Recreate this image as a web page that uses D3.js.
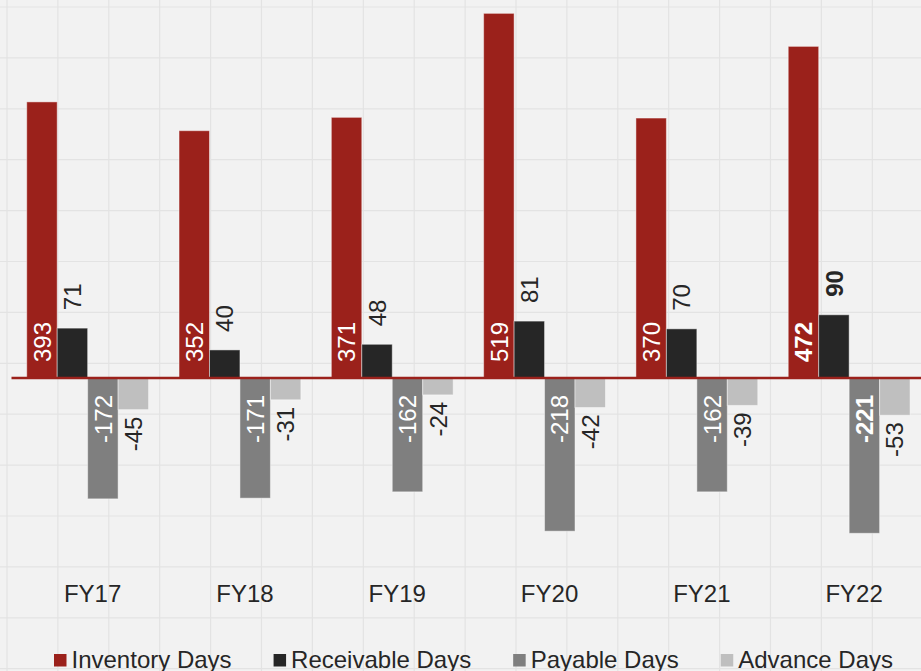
<!DOCTYPE html>
<html>
<head>
<meta charset="utf-8">
<script src="https://cdn.jsdelivr.net/npm/d3@7"></script>
<style>
  html, body { margin: 0; padding: 0; background: #f2f2f2; }
  svg { display: block; font-family: "Liberation Sans", Arial, sans-serif; }
</style>
</head>
<body>
<svg id="chart" width="921" height="671"></svg>
<script>
// Working-capital cycle, days by fiscal year
const years = ["FY17", "FY18", "FY19", "FY20", "FY21", "FY22"];
const seriesNames = ["Inventory Days", "Receivable Days", "Payable Days", "Advance Days"];
const inventoryDays = [393, 352, 371, 519, 370, 472];
const receivableDays = [71, 40, 48, 81, 70, 90];
const payableDays = [-172, -171, -162, -218, -162, -221];
const advanceDays = [-45, -31, -24, -42, -39, -53];
const seriesColors = ["#9b211b", "#262626", "#7f7f7f", "#bfbfbf"];
// last year's figures are emphasised
const boldYear = "FY22";

const W = 921, H = 671;
const svg = d3.select("#chart");

// light square background grid
const gridStep = 50.9;
const grid = svg.append("g").attr("stroke", "#e3e3e3").attr("stroke-width", 1.2);
grid.selectAll("line.h").data(d3.range(7, H, gridStep)).join("line")
  .attr("x1", 0).attr("x2", W).attr("y1", d => d).attr("y2", d => d);
grid.selectAll("line.v").data(d3.range(7, W, gridStep)).join("line")
  .attr("y1", 0).attr("y2", H).attr("x1", d => d).attr("x2", d => d);

const seriesValues = [inventoryDays, receivableDays, payableDays, advanceDays];
const rows = years.map((yr, i) => ({
  year: yr,
  values: seriesNames.map((s, k) => ({ series: s, k, value: seriesValues[k][i], year: yr }))
}));

const x0 = d3.scaleBand().domain(years).range([11.5, 925.3]).paddingInner(0.2).paddingOuter(0.1);
const x1 = d3.scaleBand().domain(seriesNames).range([0, x0.bandwidth()]);
const y = d3.scaleLinear().domain([-300, 540]).range([588.8, -1.4]);

// bars
const groups = svg.append("g").selectAll("g").data(rows).join("g")
  .attr("transform", d => `translate(${x0(d.year)},0)`);

groups.selectAll("rect").data(d => d.values).join("rect")
  .attr("x", d => x1(d.series))
  .attr("width", x1.bandwidth())
  .attr("y", d => y(Math.max(0, d.value)))
  .attr("height", d => Math.abs(y(d.value) - y(0)))
  .attr("fill", d => seriesColors[d.k])
  .attr("stroke", "rgba(255,255,255,0.45)")
  .attr("stroke-width", 1);

// zero line
svg.append("line")
  .attr("x1", 11.5).attr("x2", W)
  .attr("y1", y(0)).attr("y2", y(0))
  .attr("stroke", "#9b211b").attr("stroke-width", 2.5);

// value labels, rotated to read upward
function labelPos(d) {
  if (d.k === 0) return { y: y(0) - 16, anchor: "start", fill: "#ffffff" };
  if (d.k === 1) return { y: y(d.value) - 18, anchor: "start", fill: "#262626" };
  if (d.k === 2) return { y: y(0) + 17, anchor: "end", fill: "#ffffff" };
  return { y: y(d.value) + 7, anchor: "end", fill: "#262626" };
}

groups.selectAll("text").data(d => d.values).join("text")
  .each(function (d) {
    const p = labelPos(d);
    const cx = x1(d.series) + x1.bandwidth() / 2;
    d3.select(this)
      .attr("transform", `translate(${cx},${p.y}) rotate(-90)`)
      .attr("text-anchor", p.anchor)
      .attr("dy", "0.36em")
      .attr("fill", p.fill)
      .attr("font-size", 24)
      .attr("font-weight", d.year === boldYear && d.k < 3 ? "bold" : "normal")
      .text(d.value);
  });

// category labels
svg.append("g").selectAll("text").data(years).join("text")
  .attr("x", d => x0(d) + x0.bandwidth() / 2 + 5)
  .attr("y", 602)
  .attr("text-anchor", "middle")
  .attr("font-size", 24)
  .attr("fill", "#262626")
  .text(d => d);

// legend
const legend = svg.append("g");
let lx = 54;
seriesNames.forEach((name, k) => {
  legend.append("rect")
    .attr("x", lx).attr("y", 654)
    .attr("width", 12.5).attr("height", 12.5)
    .attr("fill", seriesColors[k]);
  const t = legend.append("text")
    .attr("x", lx + 17.5).attr("y", 668)
    .attr("font-size", 24)
    .attr("fill", "#262626")
    .text(name);
  lx += 17.5 + t.node().getComputedTextLength() + 42;
});
</script>
</body>
</html>
